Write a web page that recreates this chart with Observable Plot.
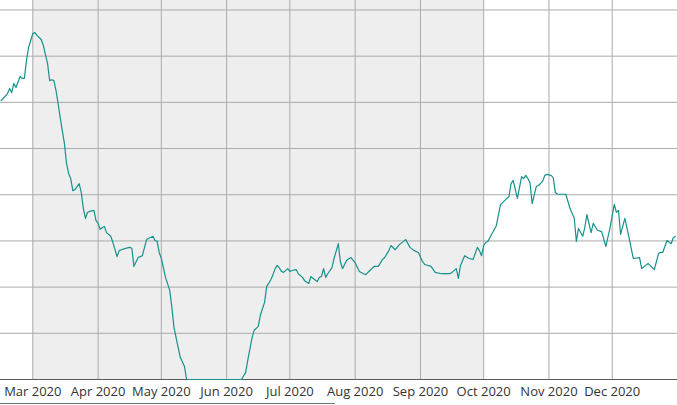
<!DOCTYPE html>
<html><head><meta charset="utf-8">
<script src="https://cdn.jsdelivr.net/npm/d3@7"></script>
<script src="https://cdn.jsdelivr.net/npm/@observablehq/plot@0.6"></script>
<style>
body{margin:0;background:#fff;}
#bar{width:335px;height:1px;background:#777;}
</style>
</head><body><div id="chart"></div><div id="bar"></div>
<script>
const dates = [
"2020-02-15","2020-02-18","2020-02-19","2020-02-20","2020-02-21","2020-02-22","2020-02-24","2020-02-25","2020-02-26","2020-02-27","2020-02-28","2020-02-29",
"2020-03-01","2020-03-02","2020-03-03","2020-03-05","2020-03-06","2020-03-08","2020-03-09","2020-03-10","2020-03-11","2020-03-12","2020-03-13","2020-03-14","2020-03-15","2020-03-16","2020-03-17","2020-03-18","2020-03-19","2020-03-20","2020-03-21","2020-03-23","2020-03-24","2020-03-25","2020-03-26","2020-03-27","2020-03-28","2020-03-30","2020-03-31",
"2020-04-01","2020-04-02","2020-04-03","2020-04-04","2020-04-05","2020-04-07","2020-04-08","2020-04-10","2020-04-11","2020-04-12","2020-04-14","2020-04-16","2020-04-17","2020-04-18","2020-04-20","2020-04-21","2020-04-22","2020-04-24","2020-04-27","2020-04-28","2020-04-29","2020-04-30",
"2020-05-01","2020-05-03","2020-05-05","2020-05-06","2020-05-07","2020-05-09","2020-05-10","2020-05-12","2020-05-13",
"2020-06-08","2020-06-10","2020-06-11","2020-06-13","2020-06-14","2020-06-16","2020-06-17","2020-06-19","2020-06-20","2020-06-22","2020-06-23","2020-06-24","2020-06-25","2020-06-26","2020-06-27","2020-06-28","2020-06-30",
"2020-07-01","2020-07-02","2020-07-04","2020-07-05","2020-07-07","2020-07-08","2020-07-10","2020-07-11","2020-07-12","2020-07-14","2020-07-15","2020-07-16","2020-07-17","2020-07-18","2020-07-19","2020-07-21","2020-07-22","2020-07-24","2020-07-25","2020-07-26","2020-07-28","2020-07-30",
"2020-08-01","2020-08-03","2020-08-05","2020-08-06","2020-08-08","2020-08-10","2020-08-12","2020-08-14","2020-08-15","2020-08-17","2020-08-18","2020-08-20","2020-08-22","2020-08-24","2020-08-25","2020-08-27","2020-08-29","2020-08-31",
"2020-09-02","2020-09-03","2020-09-06","2020-09-08","2020-09-11","2020-09-15","2020-09-16","2020-09-18","2020-09-19","2020-09-20","2020-09-22","2020-09-24","2020-09-26","2020-09-28","2020-09-29","2020-09-30",
"2020-10-01","2020-10-02","2020-10-03","2020-10-05","2020-10-07","2020-10-09","2020-10-10","2020-10-12","2020-10-13","2020-10-14","2020-10-15","2020-10-17","2020-10-19","2020-10-20","2020-10-21","2020-10-22","2020-10-23","2020-10-24","2020-10-26","2020-10-27","2020-10-29","2020-10-30","2020-10-31",
"2020-11-02","2020-11-03","2020-11-04","2020-11-05","2020-11-09","2020-11-11","2020-11-13","2020-11-14","2020-11-15","2020-11-17","2020-11-18","2020-11-19","2020-11-21","2020-11-22","2020-11-24","2020-11-26","2020-11-28","2020-11-30",
"2020-12-02","2020-12-03","2020-12-04","2020-12-05","2020-12-07","2020-12-09","2020-12-11","2020-12-14","2020-12-15","2020-12-18","2020-12-19","2020-12-21","2020-12-23","2020-12-24","2020-12-25","2020-12-27","2020-12-29","2020-12-30","2020-12-31"
];
const values = [
60.4,61.9,63.0,62.1,64.1,63.2,65.6,65.2,65.2,69.1,71.9,73.4,
74.9,75.1,74.5,73.6,72.3,68.4,64.7,64.9,64.7,62.6,59.8,56.7,53.9,51.1,46.8,44.6,43.5,40.9,41.1,42.4,40.5,37.0,34.9,36.2,36.4,36.6,34.4,
33.8,32.5,32.9,33.1,31.8,31.0,29.7,26.6,27.9,28.1,28.4,28.6,28.4,24.5,26.4,26.6,26.8,30.3,31.0,30.1,29.9,27.5,
26.2,22.1,19.3,15.6,11.3,6.9,4.8,2.8,0,
0,1.5,4.1,8.9,10.6,11.5,13.9,16.7,20.1,21.6,22.7,24.0,24.7,24.2,23.4,23.2,24.0,
23.4,23.6,23.8,22.9,22.1,21.4,20.8,22.3,21.9,21.2,22.1,22.3,24.0,22.1,22.9,24.2,26.2,29.4,25.5,24.0,25.8,26.4,
25.3,23.4,22.9,22.7,23.6,24.5,24.5,26.0,26.4,27.9,29.0,28.1,29.2,29.9,30.3,28.6,27.9,27.5,
25.5,24.9,24.5,23.2,22.9,22.9,23.2,24.0,21.9,24.7,26.8,26.2,26.0,28.6,27.9,26.8,
29.0,29.7,29.9,31.6,33.3,37.9,38.3,39.2,39.6,42.4,43.1,39.2,43.9,43.5,44.2,43.5,42.6,38.1,41.8,42.0,42.9,44.2,44.4,
44.2,43.7,40.5,40.1,40.1,37.0,34.9,29.9,32.7,31.0,32.9,35.7,31.8,33.8,32.3,32.0,28.8,32.9,
37.9,36.2,36.6,31.4,34.9,30.7,26.2,26.4,24.0,25.1,24.7,23.8,27.3,27.5,27.5,30.1,29.4,30.7,31.0
];
const monthTicks = ["2020-03-01","2020-04-01","2020-05-01","2020-06-01","2020-07-01","2020-08-01","2020-09-01","2020-10-01","2020-11-01","2020-12-01"];
const yTicks = [10,20,30,40,50,60,70,80];
const shadedStart = "2020-03-01";
const shadedEnd = "2020-10-01";
const xDomain = ["2020-02-14T16:00Z","2021-01-01T00:00Z"];
const yDomain = [0, 82.05];

const series = dates.map((d,i)=>({date:new Date(d), value:values[i]}));
const mTicks = monthTicks.map(d=>new Date(d));
const shade = [{x1:new Date(shadedStart), x2:new Date(shadedEnd), y1:yDomain[0], y2:yDomain[1]}];

const chart = Plot.plot({
  width:677, height:403,
  marginLeft:0, marginRight:0, marginTop:0, marginBottom:24,
  style:{fontFamily:"'Open Sans', sans-serif", fontSize:"13px", background:"#fff", overflow:"visible"},
  x:{type:"utc", domain:xDomain.map(d=>new Date(d))},
  y:{domain:yDomain, axis:null},
  marks:[
    Plot.rect(shade,{x1:"x1",x2:"x2",y1:"y1",y2:"y2",fill:"#eeeeee"}),
    Plot.ruleY(yTicks,{stroke:"#ababab",strokeWidth:1}),
    Plot.ruleX(mTicks,{stroke:"#ababab",strokeWidth:1}),
    Plot.ruleY([yDomain[0]],{stroke:"#5a5a5a",strokeWidth:1}),
    Plot.line(series,{x:"date",y:"value",stroke:"#16918c",strokeWidth:1.2}),
    Plot.axisX(mTicks,{tickFormat:d3.utcFormat("%b %Y"),tickSize:0,tickPadding:7,fill:"#333",fontSize:13,label:null})
  ]
});
document.getElementById("chart").appendChild(chart);
</script>
</body></html>
